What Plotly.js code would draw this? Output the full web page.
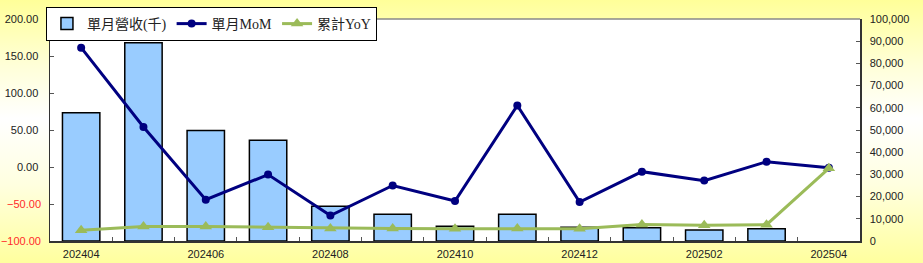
<!DOCTYPE html>
<html>
<head>
<meta charset="utf-8">
<script src="https://cdn.plot.ly/plotly-3.0.1.min.js"></script>
<style>
html,body{margin:0;padding:0;}
body{width:923px;height:263px;background:linear-gradient(to bottom,#FFFF99 0%,#FFFFD8 25%,#FFFFFF 45%,#FFFFE0 70%,#FFFF9E 100%);}
#chart{width:923px;height:263px;}
</style>
</head>
<body>
<div id="chart"></div>
<script>
const months = ["202404","202405","202406","202407","202408","202409","202410","202411","202412","202501","202502","202503","202504"];
const revenue = [57800, 89300, 49800, 45400, 15600, 12100, 6600, 12000, 6200, 6000, 4900, 5500, null];
const mom = [161.3, 54.0, -44.2, -10.3, -65.7, -25.0, -46.0, 83.1, -47.3, -6.3, -18.4, 7.1, -1.0];
const yoy = [-85.4, -80.4, -80.4, -81.3, -83.1, -83.1, -83.5, -83.1, -83.5, -77.7, -78.6, -78.0, -1.8];
const posTicks = [0, 50, 100, 150, 200];
const negTicks = [-100, -50];
const xLabels = months.map((m, i) => i % 2 === 0 ? m : "");

const traces = [
  {type:'bar', name:'單月營收(千)', x:months, y:revenue, yaxis:'y',
   marker:{color:'#99CCFF', line:{color:'#000000', width:1.5}}},
  {type:'scatter', mode:'lines+markers', name:'單月MoM', x:months, y:mom, yaxis:'y2',
   line:{color:'#000080', width:3}, marker:{color:'#000080', size:8, symbol:'circle'}},
  {type:'scatter', mode:'lines+markers', name:'累計YoY', x:months, y:yoy, yaxis:'y2',
   line:{color:'#9BBB59', width:3}, marker:{color:'#9BBB59', size:11, symbol:'triangle-up'}},
  {type:'scatter', mode:'markers', x:[null], y:[null], yaxis:'y3', showlegend:false, hoverinfo:'skip'}
];

const leftCommon = {side:'left', overlaying:'y', range:[-100,200], autorange:false, tickmode:'array', tickformat:'.2f',
  automargin:false, ticks:'inside', ticklen:4, tickcolor:'#555555',
  showgrid:false, zeroline:false, ticklabelstandoff:8};

const layout = {
  width:923, height:263,
  margin:{l:50, r:63, t:19, b:22, autoexpand:false},
  paper_bgcolor:'rgba(0,0,0,0)',
  plot_bgcolor:'#FFFFFF',
  font:{family:'Liberation Sans, Arial, sans-serif', size:11, color:'#222222'},
  bargap:0.4,
  showlegend:true,
  legend:{orientation:'h', x:-0.005, xanchor:'left', y:1.054, yanchor:'top',
    bgcolor:'#FFFFFF', bordercolor:'#000000', borderwidth:1,
    font:{family:'Liberation Serif, "Noto Sans CJK TC", serif', size:14, color:'#222222'},
    traceorder:'normal', itemwidth:30},
  xaxis:{type:'category', range:[-0.5, 12.5], autorange:false, tickmode:'array', tickvals:months, ticktext:xLabels, automargin:false,
    tickson:'boundaries', ticks:'inside', ticklen:4, tickcolor:'#555555',
    showline:true, linecolor:'#333333', linewidth:1.5, showgrid:false, zeroline:false,
    ticklabelstandoff:2, tickfont:{size:11, color:'#222222'}},
  yaxis:{side:'right', range:[0,100000], dtick:10000, tickformat:',d', automargin:false,
    ticks:'inside', ticklen:4, tickcolor:'#555555', showline:true, linecolor:'#333333', linewidth:1.5,
    showgrid:false, zeroline:false, ticklabelstandoff:6, tickfont:{size:11, color:'#222222'}},
  yaxis2:Object.assign({}, leftCommon, {tickvals:posTicks, showline:true, linecolor:'#333333', linewidth:1.5,
    tickfont:{size:11, color:'#222222'}}),
  yaxis3:Object.assign({}, leftCommon, {tickvals:negTicks, showline:false,
    tickfont:{size:11, color:'#FF2A2A'}}),
  shapes:[{type:'line', xref:'paper', yref:'paper', x0:0, x1:1, y0:1, y1:1,
    line:{color:'#888888', width:1.5}}]
};

Plotly.newPlot('chart', traces, layout, {displayModeBar:false, staticPlot:true});
</script>
</body>
</html>
